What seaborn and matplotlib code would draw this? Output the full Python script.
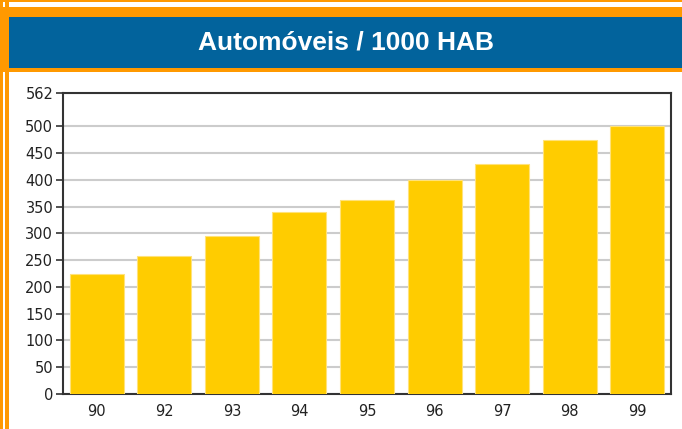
import numpy as np
import pandas as pd
import matplotlib
matplotlib.use("Agg")
import matplotlib.pyplot as plt
from matplotlib.patches import Rectangle
import seaborn as sns

# data
years = ["90", "92", "93", "94", "95", "96", "97", "98", "99"]
cars_per_1000 = [224, 258, 295, 340, 362, 400, 429, 474, 500]
ytick_vals = [0, 50, 100, 150, 200, 250, 300, 350, 400, 450, 500, 562]
title = "Automóveis / 1000 HAB"

df = pd.DataFrame({"ano": years, "valor": cars_per_1000})

sns.set_style("white")
plt.rcParams['font.family'] = ['Liberation Sans', 'DejaVu Sans']

W, H = 682, 429
fig = plt.figure(figsize=(W / 100, H / 100), dpi=100)
fig.patch.set_facecolor("white")

orange = "#FF9900"
blue = "#02639C"

def px_rect(x0, y0, x1, y1, color):
    # pixel box (top-left origin) -> figure rectangle
    fig.patches.append(Rectangle((x0 / W, 1 - y1 / H), (x1 - x0) / W, (y1 - y0) / H,
                                 transform=fig.transFigure, color=color, lw=0, zorder=0))

px_rect(0, 0, W, 2, orange)
px_rect(0, 7, W, 72, orange)
px_rect(0, 0, 3, H, orange)
px_rect(5, 0, 9, H, orange)
px_rect(9, 17, W, 68, blue)
fig.text((9 + W) / 2 / W, 1 - 43 / H, title, color="white", fontsize=19,
         fontweight="bold", ha="center", va="center")

ax = fig.add_axes([63 / W, 1 - 394 / H, 608 / W, 301 / H])
sns.barplot(data=df, x="ano", y="valor", color="#FFCC00", saturation=1,
            width=0.8, edgecolor="#FFE27A", linewidth=0.8, ax=ax, zorder=3)

ax.set_ylim(0, 562)
ax.set_yticks(ytick_vals)
ax.set_xlabel("")
ax.set_ylabel("")
ax.yaxis.grid(True, color="#CCCCCC", linewidth=1.5, zorder=0)
ax.set_axisbelow(True)
for s in ax.spines.values():
    s.set_visible(True)
    s.set_color("#333333")
    s.set_linewidth(1.5)
ax.tick_params(axis="y", length=5, width=1.2, color="#333333", labelsize=10.5,
               labelcolor="#222222", pad=2, left=True)
ax.tick_params(axis="x", length=0, labelsize=10.5, labelcolor="#222222", pad=7)
for lab in ax.get_xticklabels() + ax.get_yticklabels():
    lab.set_family("DejaVu Sans")

fig.savefig("out.png", dpi=100)
